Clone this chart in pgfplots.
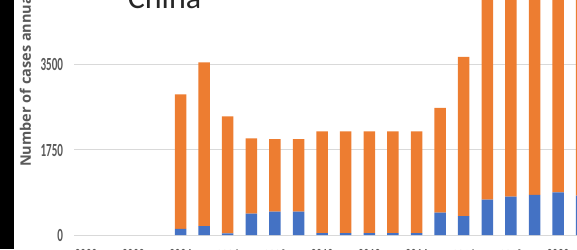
\documentclass[border=0pt]{standalone}
\usepackage{graphicx}
\usepackage{fontspec}
\setmainfont{Carlito}
\newfontfamily\osans{Open Sans}
\usepackage{pgfplots}
\pgfplotsset{compat=1.18}
\definecolor{xblue}{HTML}{4472C4}
\definecolor{xorange}{HTML}{ED7D31}
\definecolor{xgrid}{HTML}{D9D9D9}
\definecolor{xtext}{HTML}{595959}
\newcommand\nar[1]{\scalebox{0.6}[1]{#1}}
\begin{document}
\begin{tikzpicture}
\begin{axis}[
  scale only axis,
  width=519.2pt, height=255pt,
  at={(74.3pt,14pt)}, anchor=south west,
  xmin=1999.5, xmax=2021.5,
  ymin=0, ymax=5250,
  ybar stacked, bar width=11.5pt,
  axis line style={draw=none},
  major tick length=0pt,
  ymajorgrids, grid style={xgrid, line width=1pt},
  ytick={0,1750,3500},
  yticklabels={\nar{0},\nar{1750},\nar{3500}},
  yticklabel style={anchor=east, inner sep=0pt, xshift=-11pt, font=\fontsize{18.5}{18.5}\selectfont\bfseries, text=xtext},
  xtick={2000,2002,...,2020},
  xticklabels={\nar{2000},\nar{2002},\nar{2004},\nar{2006},\nar{2008},\nar{2010},\nar{2012},\nar{2014},\nar{2016},\nar{2018},\nar{2020}},
  xticklabel style={anchor=north, inner sep=0pt, yshift=-14.5pt, font=\fontsize{18.5}{18.5}\selectfont\bfseries, text=xtext},
  clip=true,
]
\addplot[fill=xblue, draw=none] coordinates {
 (2000,0) (2001,0) (2002,0) (2003,0)
 (2004,124) (2005,185) (2006,35) (2007,439) (2008,480) (2009,480)
 (2010,41) (2011,41) (2012,41) (2013,41) (2014,41)
 (2015,459) (2016,391) (2017,727) (2018,789) (2019,824) (2020,879) (2021,809)};
\addplot[fill=xorange, draw=none] coordinates {
 (2000,0) (2001,0) (2002,0) (2003,0)
 (2004,2773) (2005,3370) (2006,2408) (2007,1551) (2008,1496) (2009,1496)
 (2010,2093) (2011,2093) (2012,2093) (2013,2093) (2014,2093)
 (2015,2156) (2016,3274) (2017,5273) (2018,5211) (2019,5176) (2020,5121) (2021,5191)};
\end{axis}
\pgfresetboundingbox
\useasboundingbox (0,0) rectangle (577pt,249pt);
\fill[black] (0,0) rectangle (14pt,249pt);
\node[anchor=base, inner sep=0pt, font=\fontsize{32}{32}\selectfont, text=black!85] at (164.5pt,240pt) {China};
\node[rotate=90, anchor=west, inner sep=0pt, font=\osans\fontsize{14.5}{14.5}\selectfont\bfseries, text=xtext] at (27pt,82pt) {Number of cases annually};
\end{tikzpicture}
\end{document}
